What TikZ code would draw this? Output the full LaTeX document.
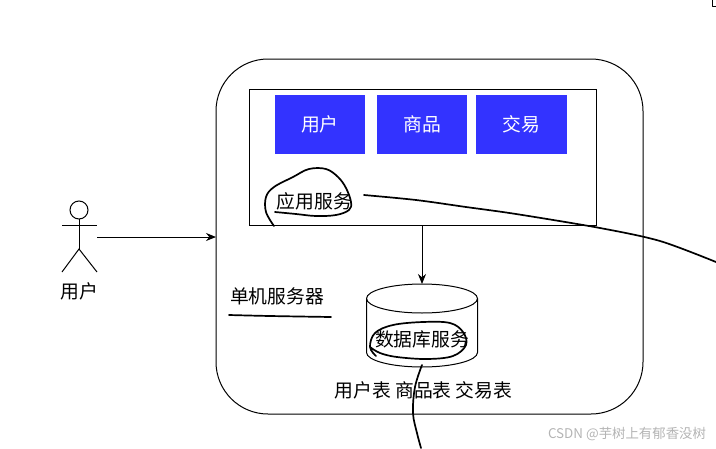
\documentclass[tikz,border=0pt]{standalone}
\usepackage{fontspec}
\setmainfont{Noto Sans CJK SC}
\usepackage{xcolor}
\usetikzlibrary{arrows.meta,positioning}
\definecolor{moduleblue}{HTML}{3333FF}
\definecolor{markgray}{HTML}{B4B4B4}

\begin{document}
\begin{tikzpicture}[
    x=1pt, y=-1pt,
    label/.style={font=\fontsize{18.8}{20}\selectfont, inner sep=0pt, align=center},
    module/.style={rectangle, fill=moduleblue, text=white, minimum width=90.5pt, minimum height=59pt, inner sep=0pt, outer sep=0pt, font=\fontsize{18.8}{20}\selectfont},
    arrow/.style={-{Stealth[length=10pt,width=8pt]}, line width=1pt},
    outline/.style={draw, line width=1pt, outer sep=0pt},
    pen/.style={line width=1.7pt, line cap=round, line join=round},
    dbend/.style={x radius=55.5pt, y radius=14.5pt}
]
\useasboundingbox (0,0) rectangle (716,448);

\node[outline, rectangle, rounded corners=52pt, minimum width=427pt, minimum height=355pt, anchor=north west] (server) at (216,59) {};
\node[outline, rectangle, minimum width=347pt, minimum height=136pt, anchor=north west] (appbox) at (249,89) {};

\node[module, anchor=north west] (user) at (274.7,94.5) {用户};
\node[module, right=11.6pt of user] (goods) {商品};
\node[module, right=9pt of goods] (trade) {交易};

\node[label] (app) at (314.5,201) {应用服务};
\node[label] (single) at (277,296) {单机服务器};

% database
\node[rectangle, minimum width=111pt, minimum height=83pt, inner sep=0pt, outer sep=0pt] (db) at (422,325.5) {};
\draw[line width=1pt] ([yshift=-14.5pt]db.north west) arc[start angle=180, end angle=0, dbend] -- ([yshift=14.5pt]db.south east) arc[start angle=0, end angle=-180, dbend] -- cycle;
\draw[line width=1pt] ([yshift=-14.5pt]db.north west) arc[start angle=180, end angle=360, dbend];
\node[label] (dbname) at (422,339) {数据库服务};
\node[label] (tables) at (423.5,390) {用户表 商品表 交易表};

% actor
\node[outline, circle, minimum size=18pt, inner sep=0pt] (head) at (79,210) {};
\coordinate (armleft) at (62,225);
\coordinate (armright) at (97,225);
\coordinate (hip) at (79,249);
\coordinate (footleft) at (62,272);
\coordinate (footright) at (97,272);
\coordinate (hand) at (97,237);
\node[label, below=10pt of hip |- footleft] (actor) {用户};
\draw[line width=1pt] (head) -- (hip);
\draw[line width=1pt] (armleft) -- (armright);
\draw[line width=1pt] (footleft) -- (hip) -- (footright);

\draw[arrow] (hand) -- (hand -| server.west);
\draw[arrow] (appbox.south -| db.center) -- (db.north);

% pen marks
\draw[pen] plot[smooth, tension=0.6] coordinates {(274,226) (266,212) (266,197) (274,187) (293,177) (309,169) (326,169) (338,177) (346,188) (351,202) (349,210) (336,215) (316,216) (296,214) (275,212)};
\draw[pen] plot[smooth, tension=0.5] coordinates {(364,195) (416,200) (466,207) (516,214) (600,228) (660,241) (716,262)};
\draw[pen] plot[smooth, tension=0.6] coordinates {(229,315) (270,316) (331,317)};
\draw[pen] plot[smooth, tension=0.6] coordinates {(376,356) (370,347) (375,333) (393,325) (423,322) (450,323) (463,332) (466,345) (453,356) (427,359) (397,357) (380,353) (370,347)};
\draw[pen] plot[smooth, tension=0.6] coordinates {(422,365) (415,387) (413,413) (417,433) (421,448)};
\draw[pen, line width=1pt] (712,0) -- (712,6) -- (716,6);

\node[text=markgray, font=\fontsize{13.4}{14}\selectfont, inner sep=0pt] (mark) at (627,434) {CSDN @芋树上有郁香没树};
\end{tikzpicture}
\end{document}
